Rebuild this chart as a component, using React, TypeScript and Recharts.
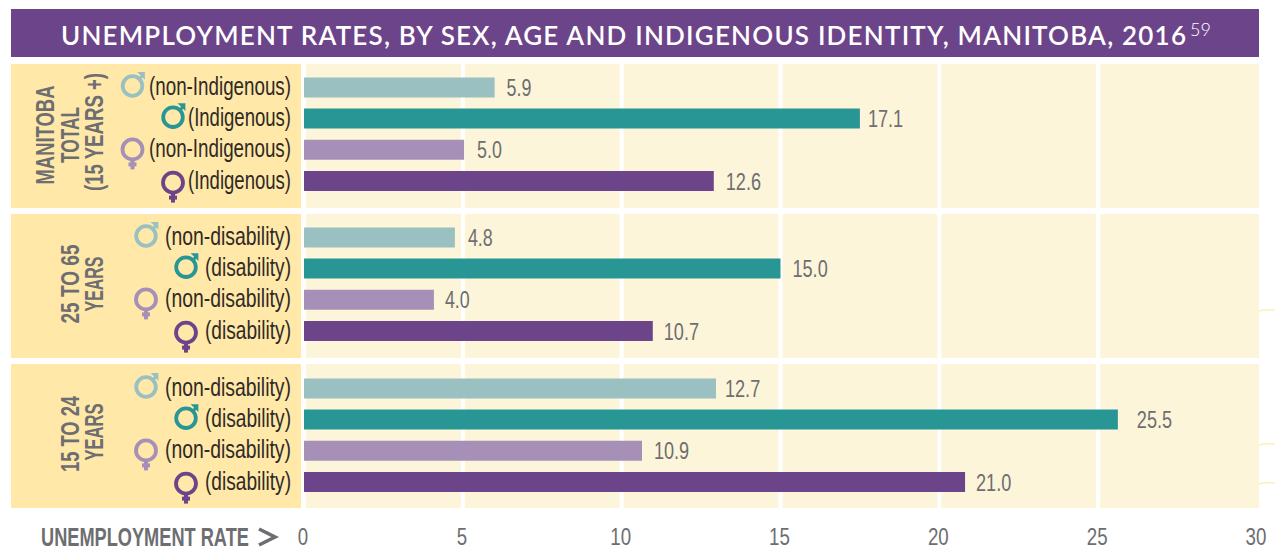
import React from "react";
import { BarChart, Bar, XAxis, YAxis, CartesianGrid, Cell, LabelList } from "recharts";

// Data
const groupLines = [
  ["MANITOBA", "TOTAL", "(15 YEARS +)"],
  ["25 TO 65", "YEARS"],
  ["15 TO 24", "YEARS"],
];
const totalCategories = ["(non-Indigenous)", "(Indigenous)", "(non-Indigenous)", "(Indigenous)"];
const ageCategories = ["(non-disability)", "(disability)", "(non-disability)", "(disability)"];
const sexes = ["male", "male", "female", "female"];
// drawn bar lengths, as measured against the axis
const totalBars = [6.0, 17.5, 5.04, 12.9];
const midBars = [4.75, 15.0, 4.09, 10.98];
const youthBars = [12.97, 25.62, 10.64, 20.81];
// values printed beside the bars
const totalPrinted = ["5.9", "17.1", "5.0", "12.6"];
const midPrinted = ["4.8", "15.0", "4.0", "10.7"];
const youthPrinted = ["12.7", "25.5", "10.9", "21.0"];
const xTicks = [0, 5, 10, 15, 20, 25, 30];
const gridValues = [5, 10, 15, 20, 25];

// Styling
const barColors = ["#9bc0c1", "#289694", "#a690b8", "#6c4489"];
const PURPLE = "#6c4489";
const YELLOW = "#ffe8a8";
const CREAM = "#fdf5d9";
const GRAY = "#6d6e71";
const INK = "#2f2a26";
const NARROW = "'Liberation Sans', sans-serif";

const panels = [
  { top: 64, cats: totalCategories, bars: totalBars, printed: totalPrinted, padTop: 7.4, padBottom: 11.8, labelGaps: [12, 8, 13, 12], textW: [142, 103, 142, 103], iconX: [132.5, 173, 132.5, 173] },
  { top: 214, cats: ageCategories, bars: midBars, printed: midPrinted, padTop: 7.4, padBottom: 11.8, labelGaps: [13, 12, 11, 11], textW: [126, 86, 126, 86], iconX: [146, 186, 146, 186] },
  { top: 364, cats: ageCategories, bars: youthBars, printed: youthPrinted, padTop: 8.4, padBottom: 10.8, labelGaps: [9, 19, 12, 11], textW: [126, 86, 126, 86], iconX: [146, 186, 146, 186] },
];

const PANEL_H = 144;
const W = 1275;

// condensed look: the printed numbers are squeezed to the reference's width
const numberWidth = (s: string) => s.replace(".", "").length * 10.4 + (s.includes(".") ? 4 : 0);

function SexIcon({ sex, x, y, color }: { sex: string; x: number; y: number; color: string }) {
  if (sex === "male") {
    return (
      <g stroke={color} fill="none">
        <circle cx={x} cy={y} r={9.8} strokeWidth={3.8} />
        <path d={`M${x + 6} ${y - 6} L${x + 10.5} ${y - 11}`} strokeWidth={3} />
        <path d={`M${x + 4.6} ${y - 14} L${x + 12.4} ${y - 14} L${x + 12.4} ${y - 6.2} Z`} fill={color} stroke="none" />
      </g>
    );
  }
  return (
    <g stroke={color} fill="none">
      <circle cx={x} cy={y} r={10} strokeWidth={3.8} />
      <path d={`M${x} ${y + 11} L${x} ${y + 20}`} strokeWidth={4} />
      <path d={`M${x - 4} ${y + 15} L${x + 4} ${y + 15}`} strokeWidth={4} />
    </g>
  );
}

function CategoryTick(props: any) {
  const { y, payload, panel } = props;
  const i = payload.index ?? 0;
  const female = sexes[i] === "female";
  return (
    <g>
      <SexIcon sex={sexes[i]} x={panel.iconX[i]} y={y + (female ? (i === 3 ? 2 : 0) : -1)} color={barColors[i]} />
      <text
        x={291}
        y={y + 8}
        textAnchor="end"
        fontFamily={NARROW}
        fontSize={25}
        fill={INK}
        textLength={panel.textW[i]}
        lengthAdjust="spacingAndGlyphs"
      >
        {panel.cats[i]}
      </text>
    </g>
  );
}

function XTick(props: any) {
  const { x, y, payload } = props;
  const s = String(payload.value);
  return (
    <text
      x={x - 1}
      y={y + 37}
      textAnchor="middle"
      fontFamily={NARROW}
      fontSize={24}
      fill={GRAY}
      textLength={numberWidth(s)}
      lengthAdjust="spacingAndGlyphs"
    >
      {s}
    </text>
  );
}

function PanelChart({ panel, last }: { panel: (typeof panels)[number]; last: boolean }) {
  const data = panel.cats.map((c, i) => ({ key: `${sexes[i]} ${c}`, value: panel.bars[i], printed: panel.printed[i] }));
  const axisH = last ? 40 : 0;
  const extra = last ? 10 : 0;
  return (
    <div style={{ position: "absolute", left: 0, top: panel.top }}>
      <BarChart
        width={W}
        height={PANEL_H + axisH + extra}
        data={data}
        layout="vertical"
        margin={{ top: 0, right: 18, bottom: extra, left: 0 }}
        barCategoryGap={0}
      >
        <CartesianGrid horizontal={false} vertical verticalValues={gridValues} stroke="#ffffff" strokeWidth={4} />
        <XAxis
          type="number"
          domain={[0, 30]}
          ticks={xTicks}
          hide={!last}
          height={axisH}
          axisLine={false}
          tickLine={false}
          tickSize={0}
          tickMargin={0}
          interval={0}
          tick={<XTick />}
        />
        <YAxis
          type="category"
          dataKey="key"
          width={304}
          axisLine={false}
          tickLine={false}
          tickSize={0}
          tickMargin={0}
          interval={0}
          padding={{ top: panel.padTop, bottom: panel.padBottom }}
          tick={<CategoryTick panel={panel} />}
        />
        <Bar dataKey="value" barSize={20} isAnimationActive={false}>
          {data.map((d, i) => (
            <Cell key={d.key} fill={barColors[i]} />
          ))}
          <LabelList
            dataKey="printed"
            content={(p: any) => (
              <text
                x={p.x + p.width + panel.labelGaps[p.index]}
                y={p.y + p.height / 2 + 8.5}
                fontFamily={NARROW}
                fontSize={24}
                fill={GRAY}
                textLength={numberWidth(String(p.value))}
                lengthAdjust="spacingAndGlyphs"
              >
                {p.value}
              </text>
            )}
          />
        </Bar>
      </BarChart>
    </div>
  );
}

function Backdrop() {
  return (
    <svg width={W} height={558} style={{ position: "absolute", left: 0, top: 0 }}>
      <rect x={11} y={9} width={1248} height={48} fill={PURPLE} />
      <text
        x={61}
        y={45}
        fontFamily="Lato, sans-serif"
        fontWeight={600}
        fontSize={26}
        fill="#ffffff"
        textLength={1125}
        lengthAdjust="spacing"
      >
        UNEMPLOYMENT RATES, BY SEX, AGE AND INDIGENOUS IDENTITY, MANITOBA, 2016
      </text>
      <text x={1190} y={36} fontFamily="Lato, sans-serif" fontWeight={300} fontSize={18} fill="#ffffff">
        59
      </text>
      {panels.map((p) => (
        <g key={p.top}>
          <rect x={11} y={p.top} width={290} height={PANEL_H} fill={YELLOW} />
          <rect x={306} y={p.top} width={953} height={PANEL_H} fill={CREAM} />
        </g>
      ))}
      {[
        { cx: 45, cy: 135, len: 99, t: groupLines[0][0] },
        { cx: 70, cy: 135, len: 56, t: groupLines[0][1] },
        { cx: 94, cy: 132, len: 118, t: groupLines[0][2] },
        { cx: 70, cy: 284, len: 79, t: groupLines[1][0] },
        { cx: 94, cy: 284, len: 55, t: groupLines[1][1] },
        { cx: 70, cy: 434, len: 76, t: groupLines[2][0] },
        { cx: 94, cy: 432, len: 57, t: groupLines[2][1] },
      ].map((l) => (
        <text
          key={`${l.cy}-${l.t}`}
          transform={`translate(${l.cx + 9} ${l.cy}) rotate(-90)`}
          textAnchor="middle"
          fontFamily={NARROW}
          fontWeight={700}
          fontSize={25}
          fill={GRAY}
          textLength={l.len}
          lengthAdjust="spacingAndGlyphs"
        >
          {l.t}
        </text>
      ))}
      <text
        transform="translate(41 546) scale(0.7 1)"
        fontFamily={NARROW}
        fontWeight={700}
        fontSize={26}
        fill={GRAY}
      >
        UNEMPLOYMENT RATE
      </text>
      <path d="M259 529 L275 537 L259 545" fill="none" stroke={GRAY} strokeWidth={3.6} />
      {[310, 444, 483].map((y) => (
        <path key={y} d={`M1259 ${y + 1} Q1265 ${y - 1} 1275 ${y}`} fill="none" stroke="#fdeebb" strokeWidth={1.5} />
      ))}
    </svg>
  );
}

export default function App() {
  return (
    <div style={{ position: "absolute", left: 0, top: 0, width: W, height: 558, overflow: "hidden", background: "#fff" }}>
      <Backdrop />
      {panels.map((p, i) => (
        <PanelChart key={p.top} panel={p} last={i === panels.length - 1} />
      ))}
    </div>
  );
}
